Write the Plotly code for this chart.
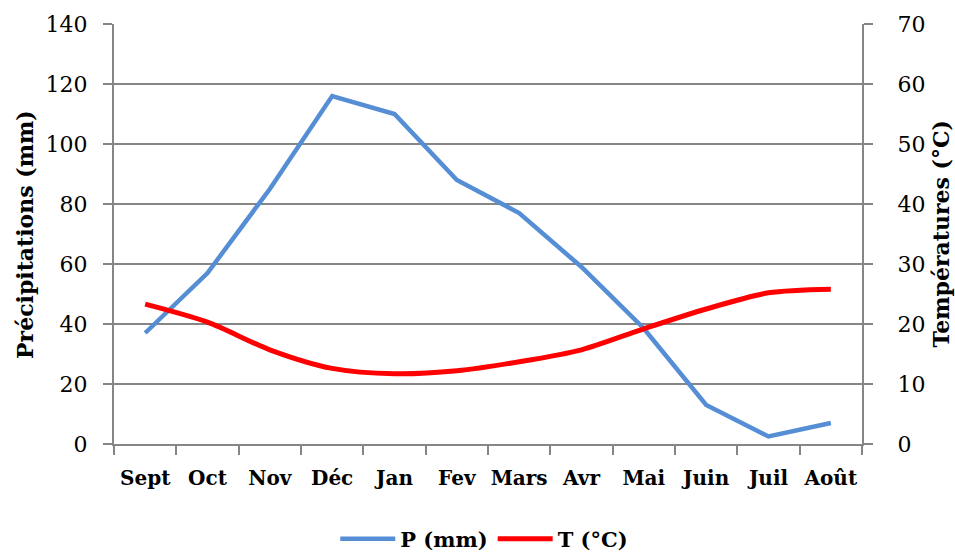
import plotly.graph_objects as go

# Monthly climate data (hydrological year, September to August)
months = ["Sept", "Oct", "Nov", "Déc", "Jan", "Fev", "Mars", "Avr", "Mai", "Juin", "Juil", "Août"]
precip_mm = [37, 57, 85, 116, 110, 88, 77, 59, 38.5, 13, 2.5, 7]
temp_c = [23.3, 20.3, 15.7, 12.6, 11.7, 12.2, 13.7, 15.7, 19.2, 22.5, 25.2, 25.8]

FONT = "DejaVu Serif"
GRID = "#868686"

fig = go.Figure()

fig.add_trace(go.Scatter(
    x=months, y=precip_mm, name="P (mm)", mode="lines",
    line=dict(color="#558ED5", width=4.5),
    yaxis="y",
))
fig.add_trace(go.Scatter(
    x=months, y=temp_c, name="T (°C)", mode="lines",
    line=dict(color="#FF0000", width=5, shape="spline", smoothing=0.8),
    yaxis="y2",
))

fig.update_layout(
    width=955, height=554,
    margin=dict(l=114, r=93, t=24, b=110),
    paper_bgcolor="white", plot_bgcolor="white",
    font=dict(family=FONT, size=21, color="black"),
    showlegend=True,
    legend=dict(
        orientation="h", xref="paper", x=0.495, xanchor="center",
        yref="container", y=0.027, yanchor="middle",
        font=dict(family=FONT, size=21, color="black", weight="bold"),
        itemwidth=55, tracegroupgap=0, bgcolor="rgba(0,0,0,0)",
    ),
    xaxis=dict(
        type="category", range=[-0.5, 11.5], automargin=False,
        showline=True, linecolor=GRID, linewidth=2,
        ticks="outside", ticklen=9, tickcolor=GRID, tickwidth=2,
        tickson="boundaries", showgrid=False, tickangle=0,
        tickfont=dict(family=FONT, size=20, weight="bold"),
        ticklabelstandoff=15,
    ),
    yaxis=dict(
        range=[0, 140], dtick=20, tick0=0, automargin=False,
        showline=True, linecolor=GRID, linewidth=2,
        ticks="outside", ticklen=9, tickcolor=GRID, tickwidth=2,
        showgrid=True, gridcolor=GRID, gridwidth=2, zeroline=False,
        tickfont=dict(family=FONT, size=22),
        ticklabelstandoff=11,
    ),
    yaxis2=dict(
        range=[0, 70], dtick=10, tick0=0, automargin=False,
        overlaying="y", side="right",
        showline=True, linecolor=GRID, linewidth=2,
        ticks="outside", ticklen=9, tickcolor=GRID, tickwidth=2,
        showgrid=False, zeroline=False,
        tickfont=dict(family=FONT, size=22),
        ticklabelstandoff=20,
    ),
    annotations=[
        dict(text="<b>Précipitations (mm)</b>", textangle=-90,
             xref="paper", yref="paper", x=-0.119, y=0.5,
             xanchor="center", yanchor="middle", showarrow=False,
             font=dict(family=FONT, size=22)),
        dict(text="<b>Températures (°C)</b>", textangle=-90,
             xref="paper", yref="paper", x=1.105, y=0.5,
             xanchor="center", yanchor="middle", showarrow=False,
             font=dict(family=FONT, size=22)),
    ],
)

fig.write_html("out.html")
